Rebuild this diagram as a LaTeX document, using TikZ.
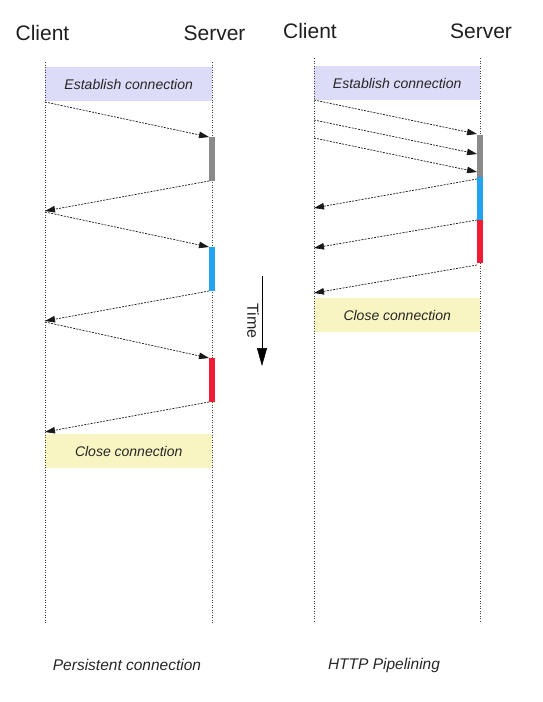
\documentclass[tikz,border=0pt]{standalone}
\usepackage{fontspec}
\setmainfont{Liberation Sans}
\usetikzlibrary{positioning,calc,arrows.meta}

\definecolor{estfill}{HTML}{DCDCF8}
\definecolor{closefill}{HTML}{F8F5C2}
\definecolor{procgray}{HTML}{8A8A8A}
\definecolor{procblue}{HTML}{22A4F2}
\definecolor{procred}{HTML}{F01C36}

\tikzset{
  lifeline/.style={dotted, black!75, line width=0.5pt},
  msg/.style={dash pattern=on 2pt off 1.2pt, black!90, line width=0.7pt,
    -{Triangle[length=10pt,width=6.5pt]}},
  head/.style={font=\fontsize{21}{24}\selectfont, text=black!88, anchor=base, inner sep=0pt},
  phase/.style={font=\fontsize{14}{16}\selectfont\itshape, text=black!85, inner sep=0pt,
    minimum width=167pt, minimum height=34pt},
  caption/.style={font=\fontsize{15.5}{18}\selectfont\itshape, text=black!85},
  proc/.style={minimum width=6pt, inner sep=0pt, outer sep=0pt},
}

\begin{document}
\begin{tikzpicture}[x=1pt, y=-1pt]
  \useasboundingbox (0,0) rectangle (543,702);%
  % persistent connection
  \node[head] (clientL) at (42.5,40) {Client};%
  \node[head] (serverL) at (214.5,40) {Server};%
  \coordinate (cLtop) at (45,62);%
  \coordinate (cLbot) at (45,623);%
  \coordinate (sLtop) at (212,62);%
  \coordinate (sLbot) at (212,623);%
  \node[phase, fill=estfill, anchor=north west] (estL) at (45,67) {Establish connection};%
  \node[phase, fill=closefill, anchor=north west] (closeL) at (45,434) {Close connection};%
  \draw[lifeline] (cLtop) -- (cLbot);%
  \draw[lifeline] (sLtop) -- (sLbot);%
  \node[proc, fill=procgray, minimum height=44pt, anchor=north] (grayL) at (212,137) {};%
  \node[proc, fill=procblue, minimum height=44pt, anchor=north] (blueL) at (212,247) {};%
  \node[proc, fill=procred, minimum height=44pt, anchor=north] (redL) at (212,358) {};%
  \coordinate (l1) at (45,102);%
  \coordinate (l2) at (45,211);%
  \coordinate (l3) at (45,212);%
  \coordinate (l4) at (45,321);%
  \coordinate (l5) at (45,322);%
  \coordinate (l6) at (45,432);%
  \draw[msg] (l1) -- (grayL.north west);%
  \draw[msg] (grayL.south west) -- (l2);%
  \draw[msg] (l3) -- (blueL.north west);%
  \draw[msg] (blueL.south west) -- (l4);%
  \draw[msg] (l5) -- (redL.north west);%
  \draw[msg] (redL.south west) -- (l6);%
  \node[caption] (persist) at (127,665) {Persistent connection};%
  % time
  \coordinate (timeTop) at (262,276);%
  \coordinate (timeBot) at (262,366);%
  \draw[line width=0.6pt, -{Triangle[length=18pt,width=10pt]}] (timeTop) -- (timeBot);%
  \node[font=\fontsize{16}{18}\selectfont, text=black!85, rotate=-90] (time) at (253,321) {Time};%
  % http pipelining
  \node[head] (clientR) at (310,38) {Client};%
  \node[head] (serverR) at (481,38) {Server};%
  \coordinate (cRtop) at (314,58);%
  \coordinate (cRbot) at (314,623);%
  \coordinate (sRtop) at (480,58);%
  \coordinate (sRbot) at (480,623);%
  \node[phase, fill=estfill, anchor=north west, minimum width=166pt] (estR) at (314,66) {Establish connection};%
  \node[phase, fill=closefill, anchor=north west, minimum width=166pt] (closeR) at (314,298) {Close connection};%
  \draw[lifeline] (cRtop) -- (cRbot);%
  \draw[lifeline] (sRtop) -- (sRbot);%
  \node[proc, fill=procgray, minimum height=42pt, anchor=north] (grayR) at (480,135) {};%
  \node[proc, fill=procblue, minimum height=43pt, anchor=north] (blueR) at (480,177) {};%
  \node[proc, fill=procred, minimum height=43pt, anchor=north] (redR) at (480,220) {};%
  \coordinate (r1) at (314,100);%
  \coordinate (r2) at (314,120);%
  \coordinate (r3) at (314,138);%
  \coordinate (s1) at (477,134);%
  \coordinate (s2) at (477,154);%
  \coordinate (s3) at (477,172);%
  \coordinate (r4) at (314,208);%
  \coordinate (r5) at (314,248);%
  \coordinate (r6) at (314,293);%
  \draw[msg] (r1) -- (s1);%
  \draw[msg] (r2) -- (s2);%
  \draw[msg] (r3) -- (s3);%
  \draw[msg] ($(blueR.north west)+(0,2)$) -- (r4);%
  \draw[msg] (redR.north west) -- (r5);%
  \draw[msg] ($(redR.south west)+(0,2)$) -- (r6);%
  \node[caption] (pipe) at (384,665) {HTTP Pipelining};%
\end{tikzpicture}
\end{document}
